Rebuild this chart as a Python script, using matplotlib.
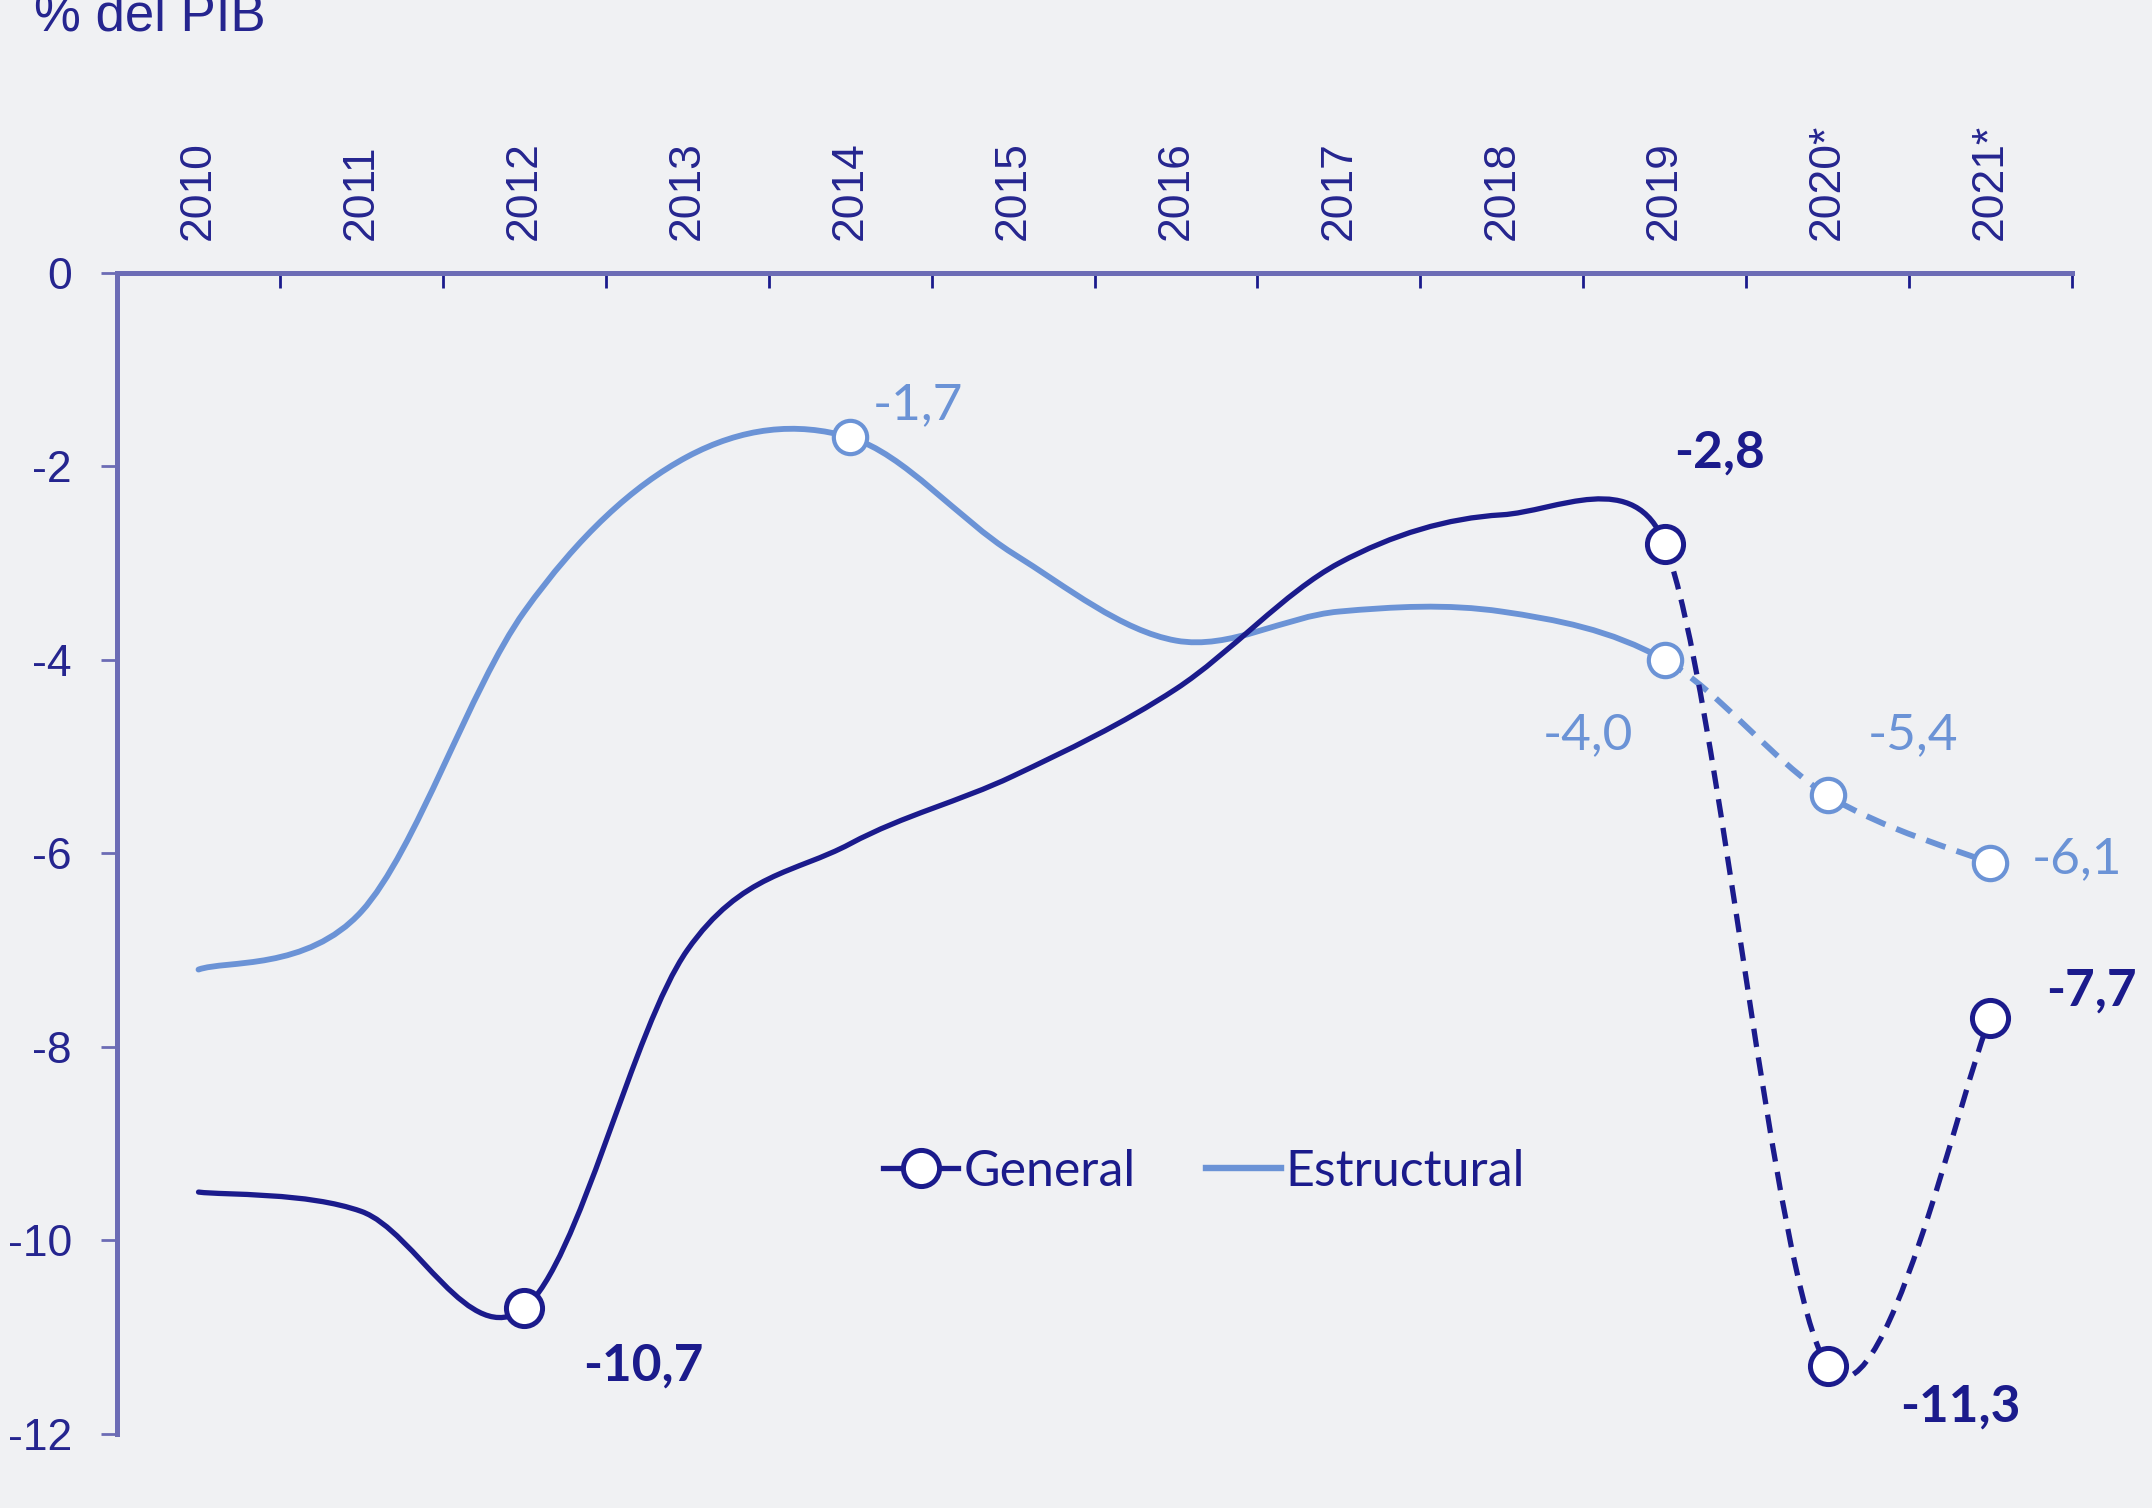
import matplotlib
matplotlib.use("Agg")
import matplotlib.pyplot as plt
from matplotlib.path import Path
from matplotlib.patches import PathPatch
from matplotlib.lines import Line2D
import numpy as np

years = ["2010", "2011", "2012", "2013", "2014", "2015", "2016", "2017",
         "2018", "2019", "2020*", "2021*"]
general = [-9.5, -9.7, -10.7, -7.0, -5.9, -5.2, -4.3, -3.0, -2.5, -2.8, -11.3, -7.7]
estructural = [-7.2, -6.6, -3.5, -1.9, -1.7, -2.9, -3.8, -3.5, -3.5, -4.0, -5.4, -6.1]

yticks = [0, -2, -4, -6, -8, -10, -12]
ytick_labels = ["0", "-2", "-4", "-6", "-8", "-10", "-12"]

# points that carry a marker + label
general_idx = [2, 9, 10, 11]
general_txt = ["-10,7", "-2,8", "-11,3", "-7,7"]
estructural_idx = [4, 9, 10, 11]
estructural_txt = ["-1,7", "-4,0", "-5,4", "-6,1"]

navy = "#1b1b8c"
light = "#6b93d6"
axis_col = "#6c6cb5"
tick_txt = "#25258f"
bg = "#f0f1f3"

plt.rcParams["font.family"] = ["Liberation Sans", "DejaVu Sans"]

fig = plt.figure(figsize=(21.52, 15.08), dpi=100, facecolor=bg)
ax = fig.add_axes([0.0544, 0.0491, 0.9084, 0.7699])
ax.set_facecolor("none")
ax.set_xlim(-0.5, len(years) - 0.5)
ax.set_ylim(-12, 0)


def smooth_path(ys, start, stop):
    # excel style smoothing: bezier handles of 1/6 of the neighbour chord,
    # capped at half the segment length (lengths measured on screen)
    n = len(ys)
    pts = np.column_stack([np.arange(n, dtype=float), ys])
    scr = ax.transData.transform(pts)
    verts = [tuple(pts[start])]
    codes = [Path.MOVETO]
    for i in range(start, stop):
        a, b, c, d = max(i - 1, 0), i, i + 1, min(i + 2, n - 1)
        d12 = np.hypot(*(scr[c] - scr[b]))
        d02 = np.hypot(*(scr[c] - scr[a]))
        d13 = np.hypot(*(scr[d] - scr[b]))
        f1 = 1 / 6 if d02 / 6 < d12 / 2 else d12 / (2 * d02)
        f2 = 1 / 6 if d13 / 6 < d12 / 2 else d12 / (2 * d13)
        c1 = pts[b] + (pts[c] - pts[a]) * f1
        c2 = pts[c] - (pts[d] - pts[b]) * f2
        verts += [tuple(c1), tuple(c2), tuple(pts[c])]
        codes += [Path.CURVE4] * 3
    return Path(verts, codes)


x = np.arange(len(years))

for ys, col, lw, z in ((estructural, light, 4.2, 2), (general, navy, 3.8, 3)):
    ax.add_patch(PathPatch(smooth_path(ys, 0, 9), fc="none", ec=col, lw=lw,
                           capstyle="round", joinstyle="round", zorder=z))
    ax.add_patch(PathPatch(smooth_path(ys, 9, len(ys) - 1), fc="none", ec=col, lw=lw,
                           ls=(0, (3.5, 2.0)), zorder=z))

ax.plot(x[estructural_idx], np.array(estructural)[estructural_idx], "o", ms=24,
        mfc="white", mec=light, mew=3.0, ls="none", zorder=4)
ax.plot(x[general_idx], np.array(general)[general_idx], "o", ms=26,
        mfc="white", mec=navy, mew=3.6, ls="none", zorder=5)

# data labels (offsets in points)
g_off = [(42, -52, "left"), (7, 55, "left"), (52, -40, "left"), (40, 9, "left")]
for i, t, (dx, dy, ha) in zip(general_idx, general_txt, g_off):
    ax.annotate(t, (x[i], general[i]), xytext=(dx, dy), textcoords="offset points",
                ha=ha, va="baseline", fontsize=37, fontweight="bold", color=navy,
                family="Lato", zorder=6)

e_off = [(16, 13, "left"), (-23, -64, "right"), (29, 33, "left"), (30, -7, "left")]
for i, t, (dx, dy, ha) in zip(estructural_idx, estructural_txt, e_off):
    ax.annotate(t, (x[i], estructural[i]), xytext=(dx, dy), textcoords="offset points",
                ha=ha, va="baseline", fontsize=37, color=light,
                family="Lato", zorder=6)

ax.xaxis.tick_top()
ax.set_xticks(x)
ax.set_xticklabels(years, rotation=90)
ax.set_xticks(np.arange(-0.5, len(years), 1.0), minor=True)
ax.tick_params(axis="x", which="major", length=0, pad=24, labelsize=32,
               labelcolor=tick_txt, top=True, bottom=False)
ax.tick_params(axis="x", which="minor", direction="in", length=11, width=2,
               color=navy, top=True, bottom=False)

ax.set_yticks(yticks)
ax.set_yticklabels(ytick_labels)
ax.tick_params(axis="y", direction="out", length=11.5, width=2, color=axis_col,
               pad=21, labelsize=32, labelcolor=tick_txt)

for s in ("bottom", "right"):
    ax.spines[s].set_visible(False)
for s in ("top", "left"):
    ax.spines[s].set_linewidth(3.6)
    ax.spines[s].set_color(axis_col)

handles = [
    Line2D([], [], color=navy, lw=3.8, marker="o", ms=26, mfc="white", mec=navy, mew=3.6),
    Line2D([], [], color=light, lw=4.6),
]
ax.legend(handles, ["General", "Estructural"], loc="center left",
          bbox_to_anchor=(0.392, 0.2257), ncol=2, frameon=False, borderpad=0,
          borderaxespad=0, handlelength=1.5, handletextpad=0.1, columnspacing=1.4,
          prop={"family": "Lato", "size": 36}, labelcolor=navy)

fig.text(0.0158, 0.980, "% del PIB", fontsize=38, color=tick_txt, ha="left", va="baseline")

fig.savefig("out.png", dpi=100, facecolor=bg)
